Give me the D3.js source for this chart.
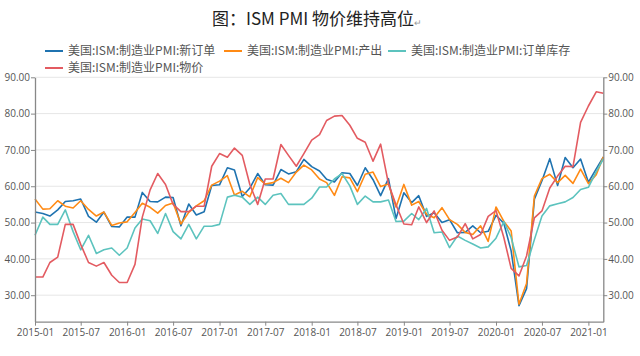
<!DOCTYPE html>
<html><head><meta charset="utf-8">
<script src="https://cdn.jsdelivr.net/npm/d3@7"></script>
<style>
html,body{margin:0;padding:0;background:#fff;}
svg{display:block;font-family:"Noto Sans CJK SC","Noto Sans",sans-serif;}
</style></head>
<body><svg id="c" width="640" height="356"></svg>
<script>
const startMonth = "2015-01";
const endMonth = "2021-03";
const tickLabels = ["2015-01","2015-07","2016-01","2016-07","2017-01","2017-07","2018-01","2018-07","2019-01","2019-07","2020-01","2020-07","2021-01"];
const yTicks = [30,40,50,60,70,80,90];
const seriesNames = ["美国:ISM:制造业PMI:新订单","美国:ISM:制造业PMI:产出","美国:ISM:制造业PMI:订单库存","美国:ISM:制造业PMI:物价"];
const newOrders = [52.9,52.5,51.8,53.5,55.8,56.0,56.5,51.7,50.1,52.9,48.9,48.8,
  51.5,51.5,58.3,55.8,55.7,57.0,56.9,49.1,55.1,52.1,53.0,60.2,
  60.4,65.1,64.5,57.2,59.5,63.5,60.4,60.3,64.6,63.4,64.0,67.4,
  65.4,64.2,61.9,61.2,63.7,63.5,60.2,65.1,61.8,57.4,62.1,51.1,
  58.2,55.5,57.4,51.7,52.7,50.0,50.8,47.2,47.3,49.1,47.2,47.6,
  52.0,49.8,42.2,27.1,31.8,56.4,61.5,67.6,60.2,67.9,65.1,67.5,
  61.1,64.8,68.0];
const production = [56.5,53.7,53.8,56.0,54.5,54.0,56.0,53.6,51.8,52.9,49.2,49.9,
  50.2,52.8,55.3,54.2,52.6,54.7,55.4,49.6,52.8,54.6,56.0,60.3,
  61.4,62.9,57.6,58.6,57.1,62.4,60.6,61.0,62.2,61.0,63.9,65.8,
  64.5,62.0,61.0,57.5,62.6,62.3,58.5,63.3,63.9,59.9,60.6,54.3,
  60.5,54.8,55.8,52.3,51.3,54.1,50.8,49.5,47.3,46.7,49.1,44.8,
  54.3,50.3,47.7,27.5,33.2,57.3,62.1,63.3,61.0,63.0,60.8,64.7,
  60.7,63.2,68.1];
const backlog = [46.5,51.5,49.5,49.5,53.5,47.5,42.5,46.5,41.5,42.5,43.0,41.0,
  43.0,48.5,51.0,50.5,47.0,52.5,47.5,45.5,49.5,45.5,49.0,49.0,
  49.5,57.0,57.5,57.0,55.0,57.0,55.0,57.5,58.0,55.0,55.0,55.0,
  56.7,59.8,59.8,62.0,63.5,60.1,55.0,57.3,55.7,55.7,56.2,50.3,
  50.4,52.5,50.8,53.9,47.2,47.4,43.1,46.3,45.1,44.1,43.0,43.3,
  45.7,50.3,45.9,37.8,38.2,45.3,51.8,54.6,55.2,55.7,56.9,59.1,
  59.7,64.0,67.5];
const prices = [35.0,35.0,39.0,40.5,49.5,49.5,44.0,39.0,38.0,39.0,35.5,33.5,
  33.5,38.5,51.5,59.0,63.5,60.5,55.0,53.0,53.0,54.5,54.5,65.5,
  69.0,68.0,70.5,68.5,60.5,55.0,62.0,62.0,71.5,68.5,65.5,69.0,
  72.7,74.2,78.1,79.3,79.5,76.8,73.2,72.1,66.9,71.6,60.7,54.9,
  49.6,49.4,54.3,50.0,53.2,47.9,45.1,46.0,49.7,45.5,46.7,51.7,
  53.3,45.9,37.4,35.3,40.8,51.3,53.2,59.5,62.8,65.5,65.4,77.6,
  82.1,86.0,85.6];
const colors = ["#1f73b0","#ff8a14","#5cc3be","#e35b61"];
const allSeries = [newOrders, production, backlog, prices];

const parse = d3.timeParse("%Y-%m");
const fmt = d3.timeFormat("%Y-%m");
const months = d3.timeMonth.range(parse(startMonth), d3.timeMonth.offset(parse(endMonth),1));

const svg = d3.select("#c");
const L = 35, R = 603.3, T = 77.3, B = 321.7;
const x = d3.scaleTime().domain([months[0], months[months.length-1]]).range([L, R]);
const y = d3.scaleLinear().domain([22.7, 90]).range([B, T]);

// title
const title = svg.append("text").attr("x", 317).attr("y", 24.5).attr("text-anchor","middle")
  .attr("font-size", 17).attr("fill","#222");
title.append("tspan").text("图：ISM PMI 物价维持高位");
title.append("tspan").attr("font-size", 9).attr("fill","#999").attr("dy", 1).text("↵");

// grid
svg.append("g").selectAll("line").data(yTicks).join("line")
  .attr("x1", L).attr("x2", R).attr("y1", d=>y(d)).attr("y2", d=>y(d))
  .attr("stroke", "#e6e6e6").attr("stroke-width", 1);

// lines
const line = d3.line().x((d,i)=>x(months[i])).y(d=>y(d));
allSeries.forEach((s,k)=>{
  svg.append("path").datum(s).attr("d", line).attr("fill","none")
    .attr("stroke", colors[k]).attr("stroke-width", 1.6).attr("stroke-linejoin","round");
});

// axes
const tickFont = '"Open Sans","Noto Sans",sans-serif';
const yl = svg.append("g").attr("transform",`translate(${L},0)`)
  .call(d3.axisLeft(y).tickValues(yTicks).tickFormat(d3.format(".2f")).tickSize(4).tickSizeOuter(0));
const yr = svg.append("g").attr("transform",`translate(${R},0)`)
  .call(d3.axisRight(y).tickValues(yTicks).tickFormat(d3.format(".2f")).tickSize(4).tickSizeOuter(0));
const xa = svg.append("g").attr("transform",`translate(0,${B})`)
  .call(d3.axisBottom(x).tickValues(tickLabels.map(parse)).tickFormat(fmt).tickSize(4).tickSizeOuter(0));
[yl,yr,xa].forEach(g=>{
  g.select(".domain").attr("stroke","#888").attr("stroke-width",1.3);
  g.selectAll(".tick line").attr("stroke","#888");
  g.selectAll(".tick text").attr("fill","#555").attr("font-size",10).attr("font-family",tickFont);
});
yl.selectAll(".tick text").attr("x",-5);
yr.selectAll(".tick text").attr("x",5);
xa.selectAll(".tick text").attr("y",7);

// legend
const legendPos = [[45,51],[224,51],[388,51],[45,68]];
const lg = svg.append("g").selectAll("g").data(seriesNames).join("g")
  .attr("transform",(d,i)=>`translate(${legendPos[i][0]},${legendPos[i][1]})`);
lg.append("line").attr("x1",0).attr("x2",18).attr("stroke",(d,i)=>colors[i]).attr("stroke-width",2);
lg.append("text").attr("x",23).attr("dy","0.35em").attr("font-size",12).attr("fill","#555").text(d=>d);
</script></body></html>
